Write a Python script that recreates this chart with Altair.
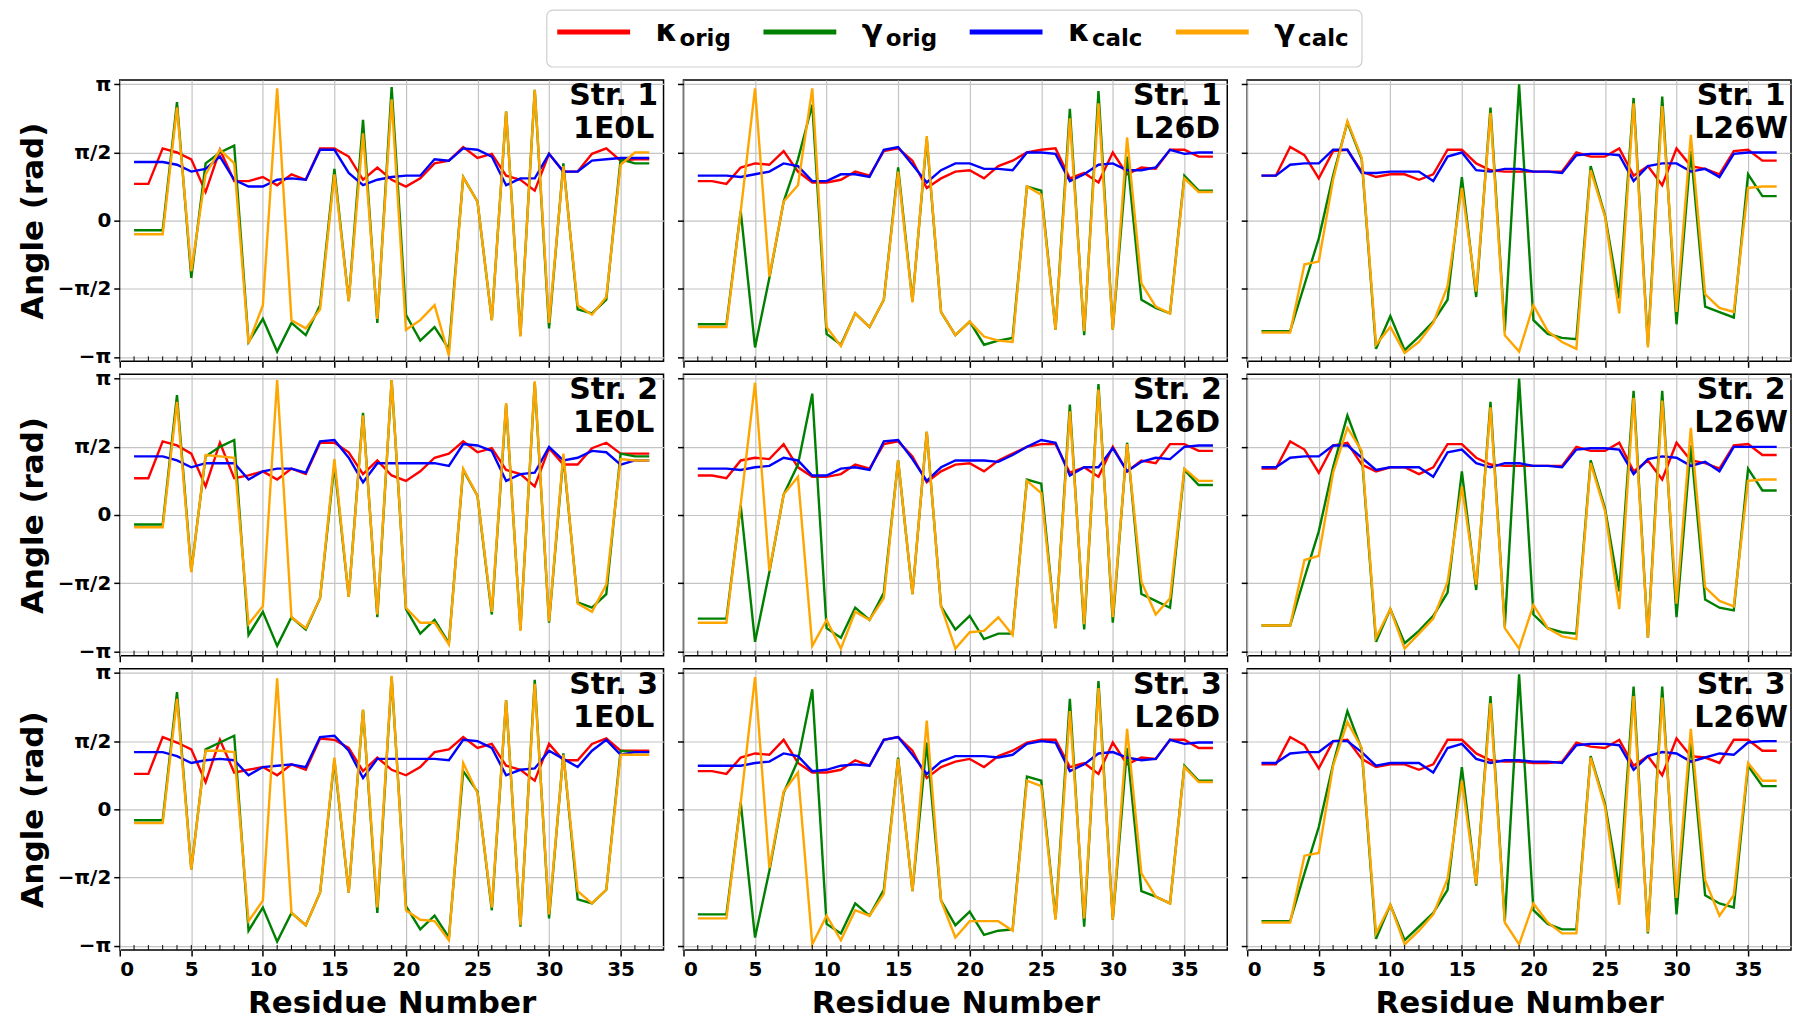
import altair as alt
import pandas as pd

# ---- data: angles in units of pi rad, residues 1..37 ----
RESIDUES = list(range(1, 38))
X_TICKS = [0, 5, 10, 15, 20, 25, 30, 35]
Y_TICKS = [-1, -0.5, 0, 0.5, 1]
STRUCTS = ["Str. 1", "Str. 2", "Str. 3"]
SYSTEMS = ["1E0L", "L26D", "L26W"]
SERIES = ["k_orig", "g_orig", "k_calc", "g_calc"]
SERIES_COLORS = ["#ff0000", "#008000", "#0000ff", "#ffa500"]
LEGEND_MAIN = ["κ", "γ", "κ", "γ"]
LEGEND_SUB = ["orig", "orig", "calc", "calc"]

S1_1E0L_KO = [0.27,0.27,0.53,0.50,0.45,0.21,0.52,0.29,0.29,0.32,0.26,0.34,0.30,0.53,0.53,0.47,0.30,0.39,0.30,0.25,0.31,0.42,0.44,0.54,0.46,0.49,0.33,0.30,0.22,0.49,0.36,0.36,0.49,0.53,0.44,0.45,0.45]
S1_1E0L_KC = [0.43,0.43,0.43,0.41,0.36,0.38,0.47,0.30,0.25,0.25,0.30,0.31,0.30,0.52,0.52,0.35,0.26,0.30,0.32,0.33,0.33,0.45,0.44,0.53,0.52,0.47,0.26,0.31,0.31,0.49,0.36,0.36,0.44,0.45,0.46,0.46,0.46]
S1_1E0L_GO = [-0.07,-0.07,-0.07,0.87,-0.42,0.42,0.50,0.55,-0.89,-0.72,-0.96,-0.75,-0.84,-0.62,0.38,-0.59,0.74,-0.75,0.98,-0.69,-0.88,-0.78,-0.94,0.32,0.14,-0.73,0.80,-0.84,0.96,-0.79,0.42,-0.65,-0.68,-0.58,0.45,0.42,0.42]
S1_1E0L_GC = [-0.10,-0.10,-0.10,0.83,-0.37,0.34,0.52,0.42,-0.90,-0.62,0.97,-0.73,-0.79,-0.65,0.34,-0.59,0.64,-0.72,0.89,-0.80,-0.73,-0.62,-0.99,0.32,0.14,-0.73,0.80,-0.85,0.96,-0.75,0.40,-0.62,-0.69,-0.56,0.41,0.50,0.50]

S1_L26D_KO = [0.29,0.29,0.27,0.39,0.42,0.41,0.51,0.36,0.28,0.28,0.30,0.36,0.33,0.51,0.53,0.44,0.24,0.31,0.36,0.37,0.31,0.40,0.44,0.50,0.52,0.53,0.31,0.35,0.28,0.50,0.34,0.39,0.38,0.52,0.52,0.47,0.47]
S1_L26D_KC = [0.33,0.33,0.33,0.32,0.34,0.36,0.42,0.40,0.29,0.29,0.34,0.34,0.32,0.52,0.54,0.41,0.28,0.37,0.42,0.42,0.38,0.38,0.37,0.50,0.50,0.49,0.29,0.34,0.41,0.42,0.37,0.37,0.39,0.52,0.49,0.50,0.50]
S1_L26D_GO = [-0.76,-0.76,-0.76,0.07,-0.93,-0.42,0.14,0.45,0.85,-0.83,-0.91,-0.68,-0.78,-0.58,0.39,-0.59,0.60,-0.67,-0.84,-0.74,-0.91,-0.88,-0.86,0.25,0.22,-0.80,0.82,-0.84,0.95,-0.80,0.47,-0.58,-0.64,-0.68,0.33,0.22,0.22]
S1_L26D_GC = [-0.78,-0.78,-0.78,0.07,0.97,-0.41,0.14,0.26,0.97,-0.78,-0.92,-0.68,-0.78,-0.58,0.36,-0.60,0.62,-0.67,-0.84,-0.74,-0.85,-0.88,-0.89,0.25,0.19,-0.80,0.75,-0.81,0.86,-0.80,0.61,-0.46,-0.63,-0.68,0.31,0.21,0.21]

S1_L26W_KO = [0.33,0.33,0.54,0.48,0.31,0.51,0.52,0.36,0.32,0.34,0.34,0.30,0.34,0.52,0.52,0.42,0.37,0.36,0.36,0.36,0.36,0.36,0.50,0.47,0.47,0.53,0.33,0.40,0.26,0.53,0.40,0.38,0.34,0.51,0.52,0.44,0.44]
S1_L26W_KC = [0.33,0.33,0.41,0.42,0.42,0.52,0.52,0.35,0.35,0.36,0.36,0.36,0.29,0.47,0.50,0.37,0.36,0.38,0.38,0.36,0.36,0.35,0.48,0.49,0.49,0.48,0.29,0.40,0.42,0.42,0.36,0.38,0.32,0.49,0.50,0.50,0.50]
S1_L26W_GO = [-0.81,-0.81,-0.81,-0.47,-0.13,0.33,0.72,0.45,-0.94,-0.70,-0.95,-0.85,-0.74,-0.58,0.32,-0.56,0.83,-0.81,1.00,-0.73,-0.83,-0.86,-0.87,0.40,0.04,-0.57,0.90,-0.91,0.91,-0.76,0.51,-0.63,-0.67,-0.71,0.34,0.18,0.18]
S1_L26W_GC = [-0.82,-0.82,-0.82,-0.32,-0.30,0.30,0.73,0.46,-0.91,-0.78,-0.97,-0.89,-0.75,-0.48,0.24,-0.52,0.79,-0.84,-0.96,-0.62,-0.81,-0.89,-0.94,0.37,0.03,-0.68,0.86,-0.93,0.84,-0.67,0.63,-0.54,-0.64,-0.67,0.24,0.25,0.25]

S2_1E0L_KO = [0.27,0.27,0.54,0.51,0.45,0.21,0.53,0.27,0.29,0.32,0.26,0.34,0.30,0.53,0.53,0.46,0.30,0.40,0.29,0.25,0.32,0.42,0.45,0.54,0.46,0.49,0.33,0.30,0.21,0.49,0.37,0.37,0.49,0.53,0.45,0.45,0.45]
S2_1E0L_KC = [0.43,0.43,0.43,0.40,0.35,0.38,0.38,0.38,0.26,0.32,0.34,0.34,0.31,0.54,0.55,0.42,0.24,0.38,0.38,0.38,0.38,0.38,0.36,0.52,0.51,0.47,0.25,0.30,0.31,0.50,0.40,0.42,0.47,0.46,0.37,0.40,0.40]
S2_1E0L_GO = [-0.07,-0.07,-0.07,0.88,-0.41,0.43,0.50,0.55,-0.88,-0.71,-0.96,-0.75,-0.84,-0.61,0.37,-0.60,0.75,-0.75,0.99,-0.69,-0.87,-0.77,-0.94,0.33,0.14,-0.73,0.81,-0.84,0.97,-0.79,0.43,-0.64,-0.68,-0.58,0.45,0.43,0.43]
S2_1E0L_GC = [-0.09,-0.09,-0.09,0.83,-0.42,0.44,0.43,0.42,-0.80,-0.67,0.99,-0.75,-0.83,-0.61,0.41,-0.60,0.73,-0.73,0.99,-0.68,-0.79,-0.79,-0.95,0.34,0.14,-0.71,0.82,-0.85,0.98,-0.78,0.45,-0.65,-0.71,-0.51,0.41,0.40,0.40]

S2_L26D_KO = [0.29,0.29,0.27,0.40,0.42,0.41,0.52,0.35,0.28,0.28,0.30,0.37,0.34,0.52,0.54,0.43,0.24,0.32,0.37,0.38,0.32,0.40,0.45,0.50,0.52,0.52,0.31,0.35,0.28,0.50,0.32,0.40,0.38,0.52,0.52,0.47,0.47]
S2_L26D_KC = [0.34,0.34,0.34,0.33,0.35,0.36,0.42,0.40,0.29,0.29,0.34,0.35,0.33,0.54,0.55,0.41,0.25,0.35,0.40,0.40,0.40,0.39,0.44,0.50,0.55,0.53,0.29,0.35,0.35,0.49,0.32,0.39,0.42,0.41,0.50,0.51,0.51]
S2_L26D_GO = [-0.76,-0.76,-0.76,0.07,-0.93,-0.42,0.15,0.37,0.89,-0.83,-0.90,-0.68,-0.77,-0.57,0.40,-0.58,0.61,-0.67,-0.84,-0.74,-0.91,-0.87,-0.87,0.26,0.23,-0.83,0.81,-0.84,0.96,-0.79,0.53,-0.58,-0.63,-0.68,0.33,0.22,0.22]
S2_L26D_GC = [-0.79,-0.79,-0.79,0.08,0.97,-0.41,0.15,0.28,-0.96,-0.77,-0.98,-0.71,-0.77,-0.61,0.40,-0.58,0.61,-0.67,-0.98,-0.86,-0.85,-0.75,-0.88,0.25,0.16,-0.83,0.76,-0.80,0.92,-0.75,0.52,-0.49,-0.73,-0.61,0.34,0.25,0.25]

S2_L26W_KO = [0.34,0.34,0.54,0.48,0.31,0.51,0.53,0.37,0.32,0.35,0.35,0.30,0.35,0.52,0.52,0.42,0.37,0.36,0.36,0.36,0.36,0.36,0.50,0.47,0.47,0.53,0.32,0.40,0.26,0.53,0.40,0.38,0.34,0.51,0.52,0.44,0.44]
S2_L26W_KC = [0.35,0.35,0.42,0.43,0.43,0.51,0.51,0.42,0.33,0.35,0.35,0.35,0.28,0.46,0.48,0.38,0.35,0.38,0.38,0.36,0.36,0.35,0.48,0.49,0.49,0.48,0.30,0.41,0.43,0.42,0.36,0.39,0.32,0.50,0.50,0.50,0.50]
S2_L26W_GO = [-0.81,-0.81,-0.81,-0.46,-0.12,0.35,0.73,0.45,-0.93,-0.69,-0.94,-0.85,-0.74,-0.57,0.32,-0.55,0.83,-0.82,1.00,-0.73,-0.83,-0.86,-0.87,0.40,0.05,-0.56,0.91,-0.90,0.91,-0.75,0.51,-0.62,-0.68,-0.70,0.34,0.18,0.18]
S2_L26W_GC = [-0.81,-0.81,-0.81,-0.33,-0.30,0.31,0.64,0.47,-0.90,-0.69,-0.98,-0.87,-0.76,-0.49,0.21,-0.51,0.79,-0.83,-0.98,-0.66,-0.83,-0.89,-0.91,0.38,0.03,-0.69,0.86,-0.90,0.84,-0.65,0.64,-0.53,-0.63,-0.67,0.25,0.26,0.26]

S3_1E0L_KO = [0.26,0.26,0.53,0.49,0.44,0.20,0.51,0.27,0.29,0.31,0.25,0.33,0.29,0.52,0.51,0.45,0.28,0.38,0.29,0.25,0.31,0.42,0.44,0.53,0.45,0.48,0.32,0.29,0.21,0.48,0.36,0.36,0.48,0.52,0.43,0.43,0.43]
S3_1E0L_KC = [0.42,0.42,0.42,0.39,0.34,0.36,0.37,0.36,0.25,0.31,0.32,0.33,0.31,0.53,0.54,0.43,0.23,0.37,0.37,0.37,0.37,0.37,0.36,0.51,0.50,0.45,0.25,0.29,0.30,0.43,0.37,0.31,0.43,0.51,0.40,0.42,0.42]
S3_1E0L_GO = [-0.08,-0.08,-0.08,0.86,-0.44,0.44,0.49,0.54,-0.89,-0.72,-0.97,-0.76,-0.85,-0.61,0.36,-0.61,0.73,-0.76,0.97,-0.71,-0.88,-0.78,-0.94,0.28,0.13,-0.74,0.80,-0.86,0.95,-0.80,0.41,-0.66,-0.69,-0.59,0.43,0.42,0.42]
S3_1E0L_GC = [-0.10,-0.10,-0.10,0.81,-0.44,0.43,0.43,0.42,-0.82,-0.67,0.96,-0.76,-0.85,-0.61,0.38,-0.61,0.73,-0.72,0.98,-0.74,-0.81,-0.82,-0.96,0.34,0.12,-0.72,0.80,-0.85,0.92,-0.77,0.40,-0.60,-0.69,-0.59,0.40,0.40,0.40]

S3_L26D_KO = [0.28,0.28,0.26,0.38,0.41,0.40,0.51,0.34,0.27,0.27,0.29,0.36,0.32,0.51,0.53,0.43,0.23,0.31,0.35,0.37,0.31,0.39,0.43,0.49,0.51,0.51,0.31,0.34,0.26,0.49,0.33,0.38,0.37,0.51,0.51,0.45,0.45]
S3_L26D_KC = [0.32,0.32,0.32,0.32,0.34,0.35,0.41,0.39,0.28,0.29,0.32,0.33,0.32,0.51,0.53,0.40,0.26,0.35,0.39,0.39,0.39,0.38,0.40,0.48,0.50,0.49,0.28,0.33,0.41,0.42,0.38,0.36,0.37,0.51,0.48,0.49,0.49]
S3_L26D_GO = [-0.77,-0.77,-0.77,0.05,-0.94,-0.45,0.12,0.36,0.88,-0.84,-0.91,-0.69,-0.78,-0.59,0.38,-0.60,0.49,-0.67,-0.85,-0.75,-0.92,-0.89,-0.88,0.24,0.21,-0.80,0.81,-0.86,0.94,-0.81,0.45,-0.60,-0.64,-0.69,0.32,0.21,0.21]
S3_L26D_GC = [-0.80,-0.80,-0.80,0.05,0.97,-0.43,0.13,0.27,-0.99,-0.78,-0.96,-0.74,-0.78,-0.62,0.37,-0.60,0.65,-0.67,-0.94,-0.82,-0.82,-0.82,-0.89,0.21,0.17,-0.81,0.72,-0.80,0.89,-0.81,0.59,-0.47,-0.64,-0.69,0.31,0.20,0.20]

S3_L26W_KO = [0.33,0.33,0.53,0.47,0.30,0.50,0.51,0.37,0.31,0.33,0.33,0.29,0.33,0.51,0.51,0.41,0.36,0.35,0.35,0.34,0.34,0.35,0.49,0.46,0.45,0.51,0.32,0.39,0.25,0.52,0.39,0.38,0.34,0.51,0.51,0.43,0.43]
S3_L26W_KC = [0.34,0.34,0.41,0.42,0.42,0.50,0.50,0.42,0.32,0.34,0.34,0.34,0.27,0.45,0.48,0.37,0.34,0.36,0.36,0.35,0.35,0.34,0.47,0.48,0.48,0.47,0.29,0.39,0.42,0.41,0.35,0.38,0.41,0.40,0.49,0.50,0.50]
S3_L26W_GO = [-0.82,-0.82,-0.82,-0.47,-0.13,0.33,0.72,0.44,-0.95,-0.70,-0.96,-0.86,-0.76,-0.59,0.31,-0.56,0.83,-0.82,0.99,-0.74,-0.84,-0.88,-0.88,0.39,0.04,-0.58,0.90,-0.91,0.90,-0.77,0.50,-0.63,-0.69,-0.72,0.32,0.17,0.17]
S3_L26W_GC = [-0.83,-0.83,-0.83,-0.34,-0.32,0.32,0.64,0.45,-0.91,-0.70,-0.99,-0.89,-0.77,-0.51,0.21,-0.55,0.78,-0.83,-0.99,-0.69,-0.83,-0.91,-0.91,0.38,0.02,-0.70,0.83,-0.90,0.82,-0.65,0.59,-0.52,-0.78,-0.63,0.34,0.21,0.21]

DATA = {
    ("Str. 1", "1E0L"): [S1_1E0L_KO, S1_1E0L_GO, S1_1E0L_KC, S1_1E0L_GC],
    ("Str. 1", "L26D"): [S1_L26D_KO, S1_L26D_GO, S1_L26D_KC, S1_L26D_GC],
    ("Str. 1", "L26W"): [S1_L26W_KO, S1_L26W_GO, S1_L26W_KC, S1_L26W_GC],
    ("Str. 2", "1E0L"): [S2_1E0L_KO, S2_1E0L_GO, S2_1E0L_KC, S2_1E0L_GC],
    ("Str. 2", "L26D"): [S2_L26D_KO, S2_L26D_GO, S2_L26D_KC, S2_L26D_GC],
    ("Str. 2", "L26W"): [S2_L26W_KO, S2_L26W_GO, S2_L26W_KC, S2_L26W_GC],
    ("Str. 3", "1E0L"): [S3_1E0L_KO, S3_1E0L_GO, S3_1E0L_KC, S3_1E0L_GC],
    ("Str. 3", "L26D"): [S3_L26D_KO, S3_L26D_GO, S3_L26D_KC, S3_L26D_GC],
    ("Str. 3", "L26W"): [S3_L26W_KO, S3_L26W_GO, S3_L26W_KC, S3_L26W_GC],
}

rows = []
for (s, sysn), arrs in DATA.items():
    for name, arr in zip(SERIES, arrs):
        for res, v in zip(RESIDUES, arr):
            rows.append({"struct": s, "system": sysn, "series": name,
                         "residue": res, "angle": v})
df = pd.DataFrame(rows)

# ---- layout ----
W, H = 545, 282
FONT = "DejaVu Sans"
Y_LABELS = ("datum.value == 1 ? 'π' : datum.value == 0.5 ? 'π/2' : "
            "datum.value == 0 ? '0' : datum.value == -0.5 ? '−π/2' : '−π'")
XS = alt.Scale(domain=[0, 38], nice=False, zero=False)
YS = alt.Scale(domain=[-1.0318, 1.0318], nice=False, zero=False)


def panel(r, c):
    s, sysn = STRUCTS[r], SYSTEMS[c]
    d = df[(df["struct"] == s) & (df["system"] == sysn)]
    bottom = r == 2
    left = c == 0
    xax = alt.Axis(values=X_TICKS, labels=bottom, grid=True, titlePadding=9,
                   labelPadding=4)
    yax = alt.Axis(values=Y_TICKS, labels=left, grid=True, labelExpr=Y_LABELS,
                   titlePadding=8)
    if bottom:
        xenc = alt.X("residue:Q", scale=XS, axis=xax, title="Residue Number")
    else:
        xenc = alt.X("residue:Q", scale=XS, axis=xax, title=None)
    if left:
        yenc = alt.Y("angle:Q", scale=YS, axis=yax, title="Angle (rad)")
    else:
        yenc = alt.Y("angle:Q", scale=YS, axis=yax, title=None)

    layers = []
    for name, col in zip(SERIES, SERIES_COLORS):
        layers.append(
            alt.Chart(d[d["series"] == name])
            .mark_line(color=col, strokeWidth=2.4)
            .encode(x=xenc, y=yenc)
        )
    minor = (
        alt.Chart(pd.DataFrame({"residue": RESIDUES}))
        .mark_rule(color="black", strokeWidth=1)
        .encode(x=xenc, y=alt.value(H - 5), y2=alt.value(H))
    )
    label = (
        alt.Chart(pd.DataFrame({"label": [s + "\n" + sysn]}))
        .mark_text(align="center", baseline="top", font=FONT, fontSize=30,
                   fontWeight="bold", color="black", lineBreak="\n",
                   lineHeight=33)
        .encode(x=alt.value(W - 50), y=alt.value(1), text="label:N")
    )
    return alt.layer(*layers, minor, label).properties(width=W, height=H)


grid = alt.concat(
    *[panel(r, c) for r in range(3) for c in range(3)],
    columns=3, spacing={"row": 13, "column": 20}, bounds="flush",
)

# ---- legend ----
leg = pd.DataFrame({"pos": [0, 1, 2, 3], "main": LEGEND_MAIN,
                    "sub": LEGEND_SUB, "color": SERIES_COLORS})
LX = alt.X("pos:Q", scale=alt.Scale(domain=[0, 3], range=[475, 1095]), axis=None)
CS = alt.Scale(domain=SERIES_COLORS, range=SERIES_COLORS)
box = alt.Chart(pd.DataFrame({"k": [0]})).mark_rect(
    fill="white", stroke="#cfcfcf", strokeWidth=1.2, cornerRadius=6
).encode(x=alt.value(428), x2=alt.value(1245), y=alt.value(0), y2=alt.value(57))
samples = alt.Chart(leg).mark_tick(orient="horizontal", size=73, thickness=5,
                                   opacity=1).encode(
    x=LX, y=alt.value(22), color=alt.Color("color:N", scale=CS, legend=None))
mains = alt.Chart(leg).mark_text(align="left", baseline="alphabetic", dx=62,
                                 font=FONT, fontSize=31, fontWeight="bold",
                                 color="black").encode(
    x=LX, y=alt.value(31), text="main:N")
subs = alt.Chart(leg).mark_text(align="left", baseline="alphabetic", dx=86,
                                font=FONT, fontSize=23, fontWeight="bold",
                                color="black").encode(
    x=LX, y=alt.value(36), text="sub:N")
legend = alt.layer(box, samples, mains, subs).properties(
    width=3 * W + 40, height=57, view=alt.ViewBackground(strokeOpacity=0))

chart = (
    alt.vconcat(legend, grid, spacing=13, bounds="flush")
    .properties(padding={"left": 8, "top": 0, "right": 0, "bottom": 0})
    .configure_view(stroke="black", strokeWidth=1.5)
    .configure_axis(
        labelFont=FONT, labelFontWeight="bold", labelFontSize=20,
        labelColor="black", titleFont=FONT, titleFontWeight="bold",
        titleFontSize=31, titleColor="black", tickColor="black", tickSize=6,
        tickWidth=1.5, domain=False, gridColor="#c4c4c4", gridWidth=1.2,
        labelPadding=3,
    )
)

chart.save("out.html", embed_options={"renderer": "svg", "actions": False})
